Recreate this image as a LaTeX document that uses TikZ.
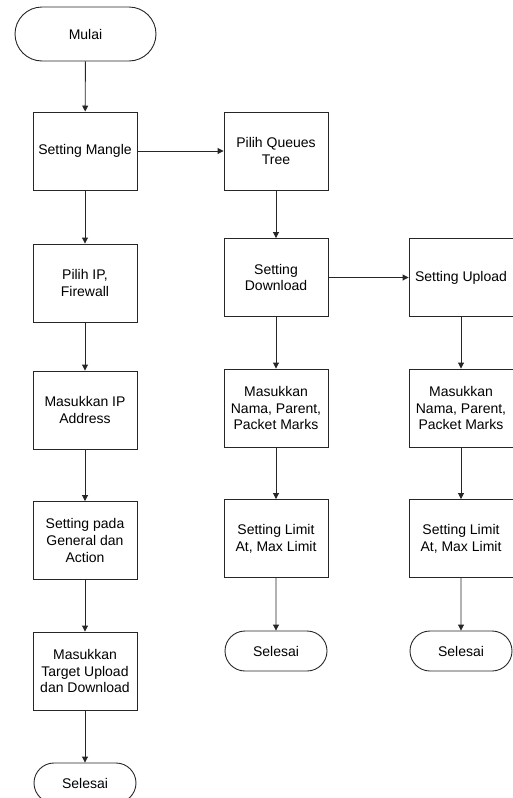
\documentclass[tikz,border=0pt]{standalone}
\usepackage{fontspec}
\setmainfont{Liberation Sans}
\usetikzlibrary{arrows.meta,shapes.misc}
\begin{document}
\begin{tikzpicture}[x=1pt,y=-1pt,
  every node/.style={font=\fontsize{14}{16.8}\selectfont, text=black},
  proc/.style={draw=black!85, line width=0.9pt, rectangle, minimum width=104pt, minimum height=78pt, align=center, inner sep=1pt},
  term/.style={draw=black!85, line width=0.9pt, rounded rectangle, minimum width=104pt, minimum height=40pt, align=center, inner sep=1pt},
  flow/.style={draw=black!85, line width=0.9pt, -{Triangle[length=6pt,width=6pt]}}]
\useasboundingbox (0,0) rectangle (512,798);
% left column
\node[term, minimum width=143pt, minimum height=54pt] (mulai) at (85.5,34) {Mulai};
\node[proc] (mangle) at (85,151) {Setting Mangle};
\node[proc] (pilihip) at (85,283) {Pilih IP,\\Firewall};
\node[proc] (masip) at (85,410) {Masukkan IP\\Address};
\node[proc] (pada) at (85,540.5) {Setting pada\\General dan\\Action};
\node[proc] (target) at (85,671) {Masukkan\\Target Upload\\dan Download};
\node[term] (sel1) at (85,783) {Selesai};
% middle column
\node[proc] (queues) at (276,151) {Pilih Queues\\Tree};
\node[proc] (down) at (276,277.5) {Setting\\Download};
\node[proc] (nama1) at (276,408) {Masukkan\\Nama, Parent,\\Packet Marks};
\node[proc] (limit1) at (276,538.5) {Setting Limit\\At, Max Limit};
\node[term] (sel2) at (276,651) {Selesai};
% right column
\node[proc] (up) at (461,277.5) {Setting Upload};
\node[proc] (nama2) at (461,408) {Masukkan\\Nama, Parent,\\Packet Marks};
\node[proc] (limit2) at (461,538.5) {Setting Limit\\At, Max Limit};
\node[term] (sel3) at (461,651) {Selesai};
% connectors
\draw[flow] (mulai) -- (mangle);
\draw[flow] (mangle) -- (pilihip);
\draw[flow] (pilihip) -- (masip);
\draw[flow] (masip) -- (pada);
\draw[flow] (pada) -- (target);
\draw[flow] (target) -- (sel1);
\draw[flow] (mangle) -- (queues);
\draw[flow] (queues) -- (down);
\draw[flow] (down) -- (nama1);
\draw[flow] (nama1) -- (limit1);
\draw[flow] (limit1) -- (sel2);
\draw[flow] (down) -- (up);
\draw[flow] (up) -- (nama2);
\draw[flow] (nama2) -- (limit2);
\draw[flow] (limit2) -- (sel3);
\end{tikzpicture}
\end{document}
